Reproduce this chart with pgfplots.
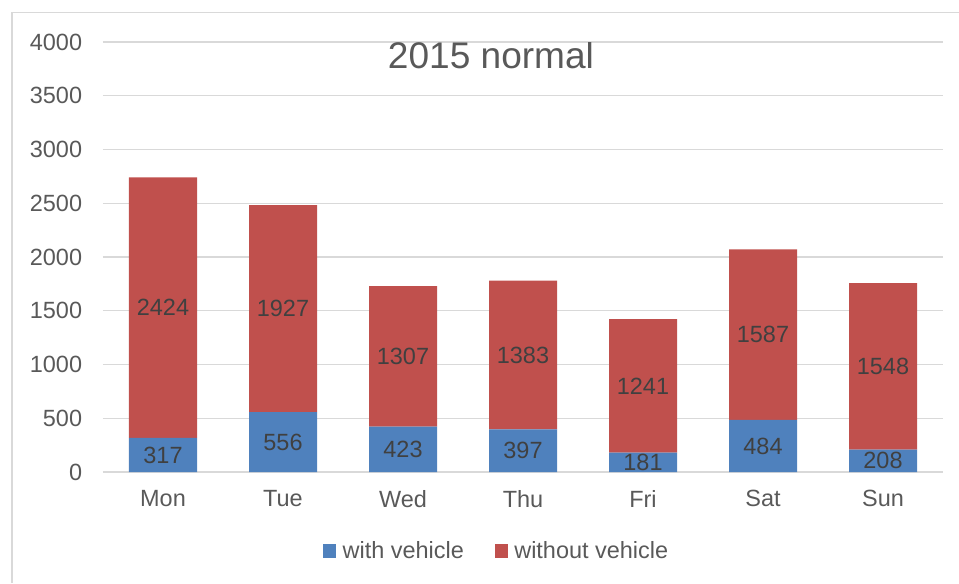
\documentclass[border=0pt]{standalone}
\usepackage{pgfplots}
\pgfplotsset{compat=1.18}
\usepackage{pgfplotstable}
\usepackage{fontspec}
\setmainfont{Liberation Sans}
\definecolor{barblue}{HTML}{4F81BD}
\definecolor{barred}{HTML}{C0504D}
\definecolor{gridgray}{HTML}{D9D9D9}
\definecolor{ticktext}{HTML}{595959}
\definecolor{labeltext}{HTML}{404040}
\pgfplotstableread{
x with without
0 317 2424
1 556 1927
2 423 1307
3 397 1383
4 181 1241
5 484 1587
6 208 1548
}\data
\begin{document}
\begin{tikzpicture}
\useasboundingbox (0,0) rectangle (719.25pt,437.25pt);
\draw[gridgray, line width=1.2pt] (9pt,0) -- (9pt,427.9pt) -- (719.25pt,427.9pt);
\begin{axis}[
  at={(77.25pt,83.25pt)}, anchor=south west,
  scale only axis, width=630pt, height=322.5pt,
  ybar stacked, bar width=51pt,
  xmin=-0.5, xmax=6.5, ymin=0, ymax=4000,
  xtick={0,...,6}, xticklabels={Mon,Tue,Wed,Thu,Fri,Sat,Sun},
  ytick={0,500,...,4000},
  ymajorgrids, grid style={gridgray, line width=0.9pt},
  axis line style={draw=none},
  major tick length=0pt,
  scaled ticks=false,
  /pgf/number format/assume math mode=true,
  /pgf/number format/1000 sep={},
  tick label style={font=\fontsize{17.6}{20}\selectfont, text=ticktext},
  yticklabel style={inner sep=0pt, xshift=-15.5pt},
  xticklabel style={inner sep=0pt, yshift=-13.5pt},
  nodes near coords,
  every node near coord/.append style={font=\fontsize{17.6}{20}\selectfont, text=labeltext, anchor=center, inner sep=0pt},
  legend columns=2,
  legend style={draw=none, fill=none, at={(0.4690,-0.1837)}, anchor=center,
    font=\fontsize{17.6}{20}\selectfont, text=ticktext,
    /tikz/every even column/.append style={column sep=21pt},
    cells={anchor=west}, inner sep=0pt},
  legend image code/.code={\fill[#1] (0pt,-4.9pt) rectangle (9.75pt,4.9pt);},
]
\addplot[fill=barblue, draw=none, point meta=\thisrow{with}]
  table[x=x, y=with] {\data};
\addplot[fill=barred, draw=none, point meta=\thisrow{without}]
  table[x=x, y=without] {\data};
\legend{\hspace{3pt}with vehicle, \hspace{3pt}without vehicle}
\node[font=\fontsize{27.8}{32}\selectfont, text=ticktext] at (rel axis cs:0.4619,0.9698) {2015 normal};
\end{axis}
\end{tikzpicture}
\end{document}
